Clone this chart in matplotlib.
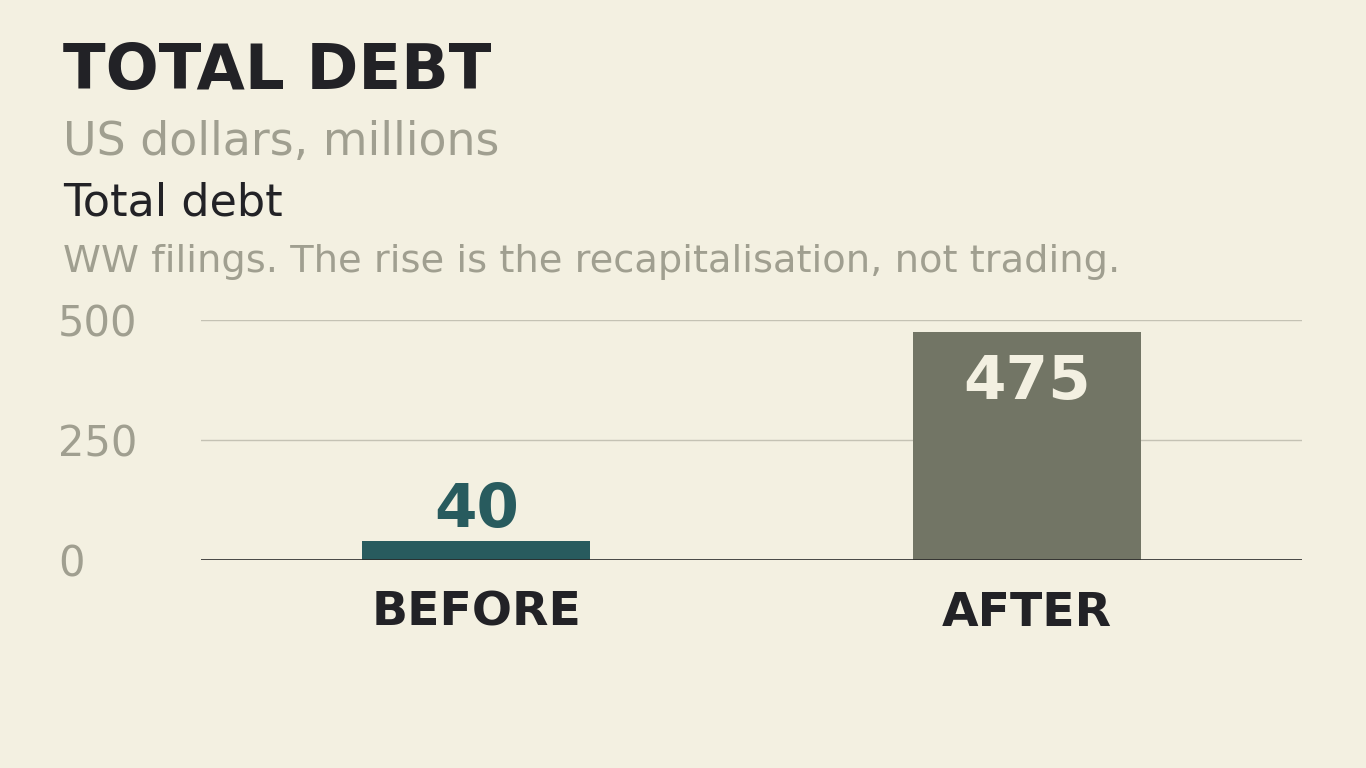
import matplotlib
matplotlib.use("Agg")
import matplotlib.pyplot as plt

# Data
categories = ["BEFORE", "AFTER"]
values = [40, 475]
bar_colors = ["#285b5e", "#727565"]
label_colors = ["#285b5e", "#f3f0e1"]
yticks = [0, 250, 500]

title = "TOTAL DEBT"
subtitle = "US dollars, millions"
series_name = "Total debt"
note = "WW filings. The rise is the recapitalisation, not trading."

bg = "#f3f0e1"
dark = "#222226"
grey = "#a09f90"

plt.rcParams['font.family'] = ['DejaVu Sans']

fig = plt.figure(figsize=(13.66, 7.68), dpi=100, facecolor=bg)
ax = fig.add_axes([201 / 1366, 1 - 560 / 768, 1101 / 1366, 240 / 768])
ax.set_facecolor(bg)

x = list(range(len(categories)))
bars = ax.bar(x, values, width=0.415, color=bar_colors, zorder=3)

ax.set_xlim(-0.5, 1.5)
ax.set_ylim(0, 500)

# grid lines + baseline
for t in yticks[1:]:
    ax.axhline(t, color="#c4c2b4", linewidth=1, zorder=1)
ax.axhline(0, color="#2a2a2a", linewidth=1.2, zorder=4)

for s in ax.spines.values():
    s.set_visible(False)

ax.set_yticks(yticks)
ax.set_yticklabels([str(t) for t in yticks], fontsize=30, color=grey, ha="left")
ax.tick_params(axis="y", length=0, pad=103)

ax.set_xticks(x)
ax.set_xticklabels(categories, fontsize=34, fontweight="bold", color=dark)
ax.tick_params(axis="x", length=0, pad=22)

# value labels: inside the tall bar, above the short one
for i, v in enumerate(values):
    if v > 200:
        off = -48
    else:
        off = 10
    ax.annotate(str(v), xy=(x[i], v), xytext=(0, off), textcoords="offset points",
                ha="center", va="baseline", fontsize=44, fontweight="bold",
                color=label_colors[i], zorder=5)

# header text
left = 63 / 1366
fig.text(left, 1 - 89 / 768, title, fontsize=45, fontweight="bold",
         color=dark, ha="left", va="baseline")
fig.text(left, 1 - 155 / 768, subtitle, fontsize=33, color=grey,
         ha="left", va="baseline")
fig.text(left, 1 - 216 / 768, series_name, fontsize=32, color=dark,
         ha="left", va="baseline")
fig.text(left, 1 - 272 / 768, note, fontsize=27.6, color=grey,
         ha="left", va="baseline")

fig.savefig("out.png", dpi=100, facecolor=bg)
